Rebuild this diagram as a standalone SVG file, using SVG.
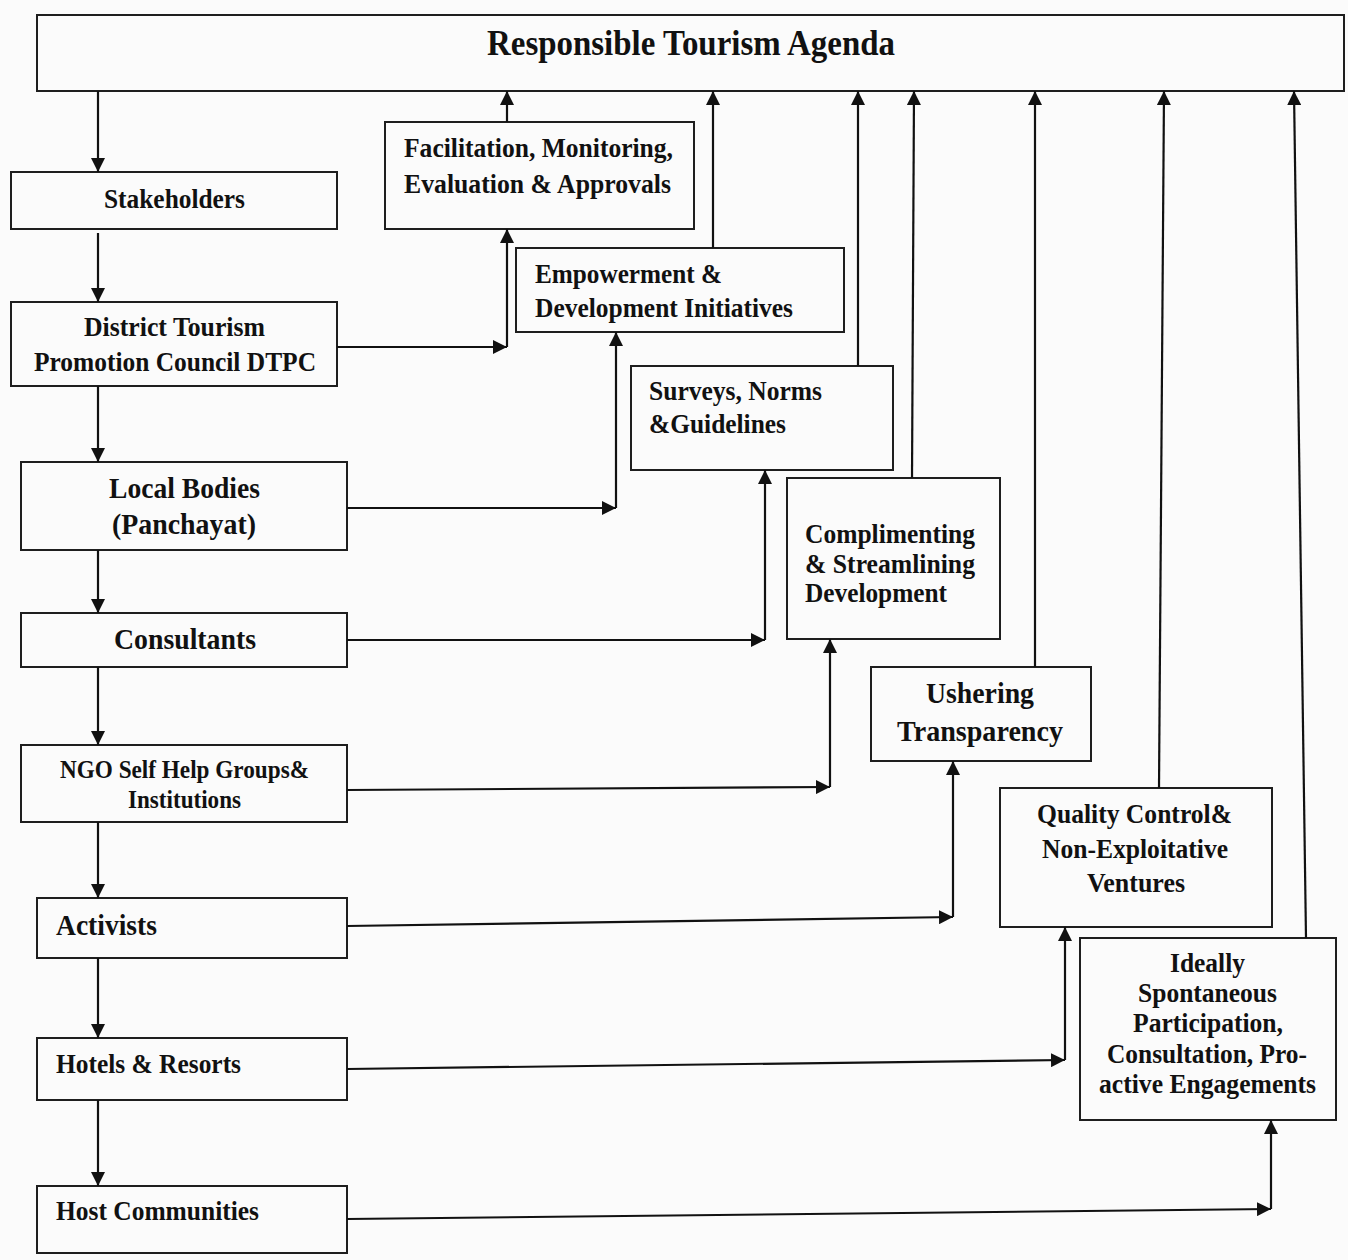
<svg xmlns="http://www.w3.org/2000/svg" width="1348" height="1260" viewBox="0 0 1348 1260">
<style>
.bg{fill:#fbfbfb}
.box{fill:#fbfbfb;stroke:#1e1e1e;stroke-width:2}
.t{font-family:"Liberation Serif","Times New Roman",serif;font-weight:bold;fill:#111}
.c{stroke:#111;stroke-width:2.2;fill:none;marker-end:url(#ah)}
</style>
<defs>
<marker id="ah" markerUnits="userSpaceOnUse" markerWidth="15" markerHeight="14" refX="14" refY="7" orient="auto">
<path d="M0,0 L14,7 L0,14 z" fill="#111"/>
</marker>
</defs>
<rect class="bg" x="0" y="0" width="1348" height="1260"/>
<g id="agenda"><rect class="box" x="37" y="15" width="1307" height="76"/><text class="t" x="487" y="55" font-size="35" textLength="408" lengthAdjust="spacingAndGlyphs">Responsible Tourism Agenda</text></g>
<g id="stakeholders"><rect class="box" x="11" y="172" width="326" height="57"/><text class="t" x="104" y="208" font-size="28" textLength="141" lengthAdjust="spacingAndGlyphs">Stakeholders</text></g>
<g id="dtpc"><rect class="box" x="11" y="302" width="326" height="84"/><text class="t" x="84" y="336" font-size="28" textLength="181" lengthAdjust="spacingAndGlyphs">District Tourism</text><text class="t" x="34" y="371" font-size="28" textLength="282" lengthAdjust="spacingAndGlyphs">Promotion Council DTPC</text></g>
<g id="local"><rect class="box" x="21" y="462" width="326" height="88"/><text class="t" x="109" y="498" font-size="29" textLength="151" lengthAdjust="spacingAndGlyphs">Local Bodies</text><text class="t" x="112" y="534" font-size="29" textLength="144" lengthAdjust="spacingAndGlyphs">(Panchayat)</text></g>
<g id="consultants"><rect class="box" x="21" y="613" width="326" height="54"/><text class="t" x="114" y="649" font-size="29" textLength="142" lengthAdjust="spacingAndGlyphs">Consultants</text></g>
<g id="ngo"><rect class="box" x="21" y="745" width="326" height="77"/><text class="t" x="60" y="778" font-size="25" textLength="249" lengthAdjust="spacingAndGlyphs">NGO Self Help Groups&amp;</text><text class="t" x="128" y="808" font-size="25" textLength="113" lengthAdjust="spacingAndGlyphs">Institutions</text></g>
<g id="activists"><rect class="box" x="37" y="898" width="310" height="60"/><text class="t" x="56" y="935" font-size="29" textLength="101" lengthAdjust="spacingAndGlyphs">Activists</text></g>
<g id="hotels"><rect class="box" x="37" y="1038" width="310" height="62"/><text class="t" x="56" y="1073" font-size="28" textLength="185" lengthAdjust="spacingAndGlyphs">Hotels &amp; Resorts</text></g>
<g id="host"><rect class="box" x="37" y="1186" width="310" height="67"/><text class="t" x="56" y="1220" font-size="28" textLength="203" lengthAdjust="spacingAndGlyphs">Host Communities</text></g>
<g id="facilitation"><rect class="box" x="385" y="122" width="309" height="107"/><text class="t" x="404" y="157" font-size="28" textLength="269" lengthAdjust="spacingAndGlyphs">Facilitation, Monitoring,</text><text class="t" x="404" y="193" font-size="28" textLength="267" lengthAdjust="spacingAndGlyphs">Evaluation &amp; Approvals</text></g>
<g id="empowerment"><rect class="box" x="516" y="248" width="328" height="84"/><text class="t" x="535" y="283" font-size="28" textLength="187" lengthAdjust="spacingAndGlyphs">Empowerment &amp;</text><text class="t" x="535" y="317" font-size="28" textLength="258" lengthAdjust="spacingAndGlyphs">Development Initiatives</text></g>
<g id="surveys"><rect class="box" x="631" y="366" width="262" height="104"/><text class="t" x="649" y="400" font-size="28" textLength="173" lengthAdjust="spacingAndGlyphs">Surveys, Norms</text><text class="t" x="649" y="433" font-size="28" textLength="137" lengthAdjust="spacingAndGlyphs">&amp;Guidelines</text></g>
<g id="complimenting"><rect class="box" x="787" y="478" width="213" height="161"/><text class="t" x="805" y="543" font-size="28" textLength="170" lengthAdjust="spacingAndGlyphs">Complimenting</text><text class="t" x="805" y="573" font-size="28" textLength="170" lengthAdjust="spacingAndGlyphs">&amp; Streamlining</text><text class="t" x="805" y="602" font-size="28" textLength="142" lengthAdjust="spacingAndGlyphs">Development</text></g>
<g id="ushering"><rect class="box" x="871" y="667" width="220" height="94"/><text class="t" x="926" y="703" font-size="30" textLength="108" lengthAdjust="spacingAndGlyphs">Ushering</text><text class="t" x="897" y="741" font-size="30" textLength="166" lengthAdjust="spacingAndGlyphs">Transparency</text></g>
<g id="quality"><rect class="box" x="1000" y="788" width="272" height="139"/><text class="t" x="1037" y="823" font-size="28" textLength="195" lengthAdjust="spacingAndGlyphs">Quality Control&amp;</text><text class="t" x="1042" y="858" font-size="28" textLength="186" lengthAdjust="spacingAndGlyphs">Non-Exploitative</text><text class="t" x="1087" y="892" font-size="28" textLength="98" lengthAdjust="spacingAndGlyphs">Ventures</text></g>
<g id="ideally"><rect class="box" x="1080" y="938" width="256" height="182"/><text class="t" x="1170" y="972" font-size="28" textLength="75" lengthAdjust="spacingAndGlyphs">Ideally</text><text class="t" x="1138" y="1002" font-size="28" textLength="139" lengthAdjust="spacingAndGlyphs">Spontaneous</text><text class="t" x="1133" y="1032" font-size="28" textLength="150" lengthAdjust="spacingAndGlyphs">Participation,</text><text class="t" x="1107" y="1063" font-size="28" textLength="200" lengthAdjust="spacingAndGlyphs">Consultation, Pro-</text><text class="t" x="1099" y="1093" font-size="28" textLength="217" lengthAdjust="spacingAndGlyphs">active Engagements</text></g>
<g id="connectors">
<path class="c" d="M98,91 L98,172"/>
<path class="c" d="M98,233 L98,302"/>
<path class="c" d="M98,386 L98,462"/>
<path class="c" d="M98,550 L98,613"/>
<path class="c" d="M98,667 L98,745"/>
<path class="c" d="M98,822 L98,898"/>
<path class="c" d="M98,958 L98,1038"/>
<path class="c" d="M98,1100 L98,1186"/>
<path class="c" d="M507,122 L507,91"/>
<path class="c" d="M713,248 L713,91"/>
<path class="c" d="M858,366 L858,91"/>
<path class="c" d="M912,478 L914,91"/>
<path class="c" d="M1035,667 L1035,91"/>
<path class="c" d="M1159,788 L1164,91"/>
<path class="c" d="M1306,938 L1294,91"/>
<path class="c" d="M337,347 L507,347"/>
<path class="c" d="M507,347 L507,229"/>
<path class="c" d="M347,508 L616,508"/>
<path class="c" d="M616,508 L616,332"/>
<path class="c" d="M347,640 L765,640"/>
<path class="c" d="M765,640 L765,470"/>
<path class="c" d="M347,790 L830,787"/>
<path class="c" d="M830,787 L830,639"/>
<path class="c" d="M347,926 L953,917"/>
<path class="c" d="M953,917 L953,761"/>
<path class="c" d="M347,1069 L1065,1060"/>
<path class="c" d="M1065,1060 L1065,927"/>
<path class="c" d="M347,1219 L1271,1209"/>
<path class="c" d="M1271,1209 L1271,1120"/>
</g>
</svg>
